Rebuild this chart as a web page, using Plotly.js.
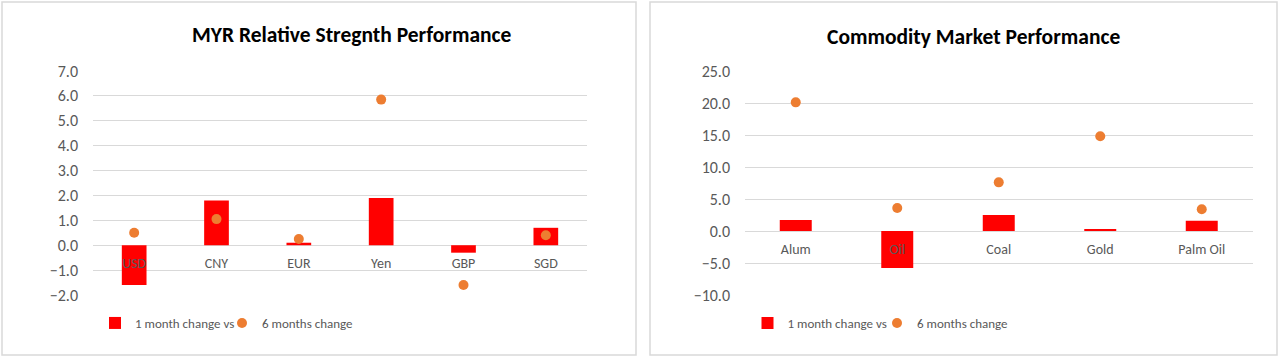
<!DOCTYPE html>
<html>
<head>
<meta charset="utf-8">
<script src="https://cdn.plot.ly/plotly-3.0.1.min.js"></script>
<style>
  html, body { margin: 0; padding: 0; background: #ffffff; }
  #chart { width: 1280px; height: 358px; }
</style>
</head>
<body>
<div id="chart"></div>
<script>
// ---- Data ----
const fxCategories = ['USD', 'CNY', 'EUR', 'Yen', 'GBP', 'SGD'];
const fxOneMonth   = [-1.6, 1.8, 0.1, 1.9, -0.3, 0.7];
const fxSixMonths  = [0.5, 1.05, 0.25, 5.85, -1.6, 0.4];

const cmCategories = ['Alum', 'Oil', 'Coal', 'Gold', 'Palm Oil'];
const cmOneMonth   = [1.7, -5.8, 2.5, 0.3, 1.6];
const cmSixMonths  = [20.1, 3.6, 7.6, 14.8, 3.4];

const seriesNames = ['1 month change vs', '6 months change'];
const chartTitles = ['MYR Relative Stregnth Performance', 'Commodity Market Performance'];

// ---- Styling ----
const W = 1280, H = 358;
const FONT = 'Carlito, Lato, "Open Sans", sans-serif';
const GRAY = '#595959';
const GRID = '#d9d9d9';
const RED = '#ff0000';
const ORANGE = '#ed7d31';

const yDom = [1 - 295 / H, 1 - 71 / H];
const y1Range = [-2, 7];
const y2Range = [-10, 25];
function zeroPos(r) { return yDom[0] + (0 - r[0]) / (r[1] - r[0]) * (yDom[1] - yDom[0]); }

const traces = [
  { type: 'bar', x: fxCategories, y: fxOneMonth, name: seriesNames[0], xaxis: 'x', yaxis: 'y',
    marker: { color: RED }, width: 0.3, legend: 'legend' },
  { type: 'scatter', mode: 'markers', x: fxCategories, y: fxSixMonths, name: seriesNames[1], xaxis: 'x', yaxis: 'y',
    marker: { color: ORANGE, size: 10 }, legend: 'legend3' },
  { type: 'bar', x: cmCategories, y: cmOneMonth, name: seriesNames[0], xaxis: 'x2', yaxis: 'y2',
    marker: { color: RED }, width: 0.315, legend: 'legend2' },
  { type: 'scatter', mode: 'markers', x: cmCategories, y: cmSixMonths, name: seriesNames[1], xaxis: 'x2', yaxis: 'y2',
    marker: { color: ORANGE, size: 10 }, legend: 'legend4' }
];

const xCommon = {
  type: 'category', showgrid: false, showline: false, zeroline: false, ticks: '',
  tickfont: { family: FONT, size: 14, color: GRAY }, anchor: 'free', ticklabelstandoff: 8, fixedrange: true
};
const yCommon = {
  showgrid: true, gridcolor: GRID, gridwidth: 1, zeroline: true, zerolinecolor: GRID, zerolinewidth: 1,
  showline: false, ticks: '', tickformat: '.1f', domain: yDom,
  tickfont: { family: FONT, size: 16, color: GRAY }, ticklabelstandoff: 14, fixedrange: true
};

const legendCommon = {
  orientation: 'h', yanchor: 'middle', y: 1 - 323 / H, xanchor: 'left',
  font: { family: FONT, size: 13, color: GRAY }, bgcolor: 'rgba(0,0,0,0)',
  itemwidth: 30, tracegroupgap: 0, itemclick: false, itemdoubleclick: false
};

const layout = {
  width: W, height: H,
  margin: { l: 0, r: 0, t: 0, b: 0 },
  paper_bgcolor: '#ffffff', plot_bgcolor: 'rgba(0,0,0,0)',
  showlegend: true,
  xaxis: Object.assign({}, xCommon, { domain: [93 / W, 587 / W], position: zeroPos(y1Range) }),
  yaxis: Object.assign({}, yCommon, { range: y1Range, dtick: 1, anchor: 'x' }),
  xaxis2: Object.assign({}, xCommon, { domain: [745 / W, 1252.5 / W], position: zeroPos(y2Range) }),
  yaxis2: Object.assign({}, yCommon, { range: y2Range, dtick: 5, anchor: 'x2' }),
  legend:  Object.assign({}, legendCommon, { x: 95 / W }),
  legend3: Object.assign({}, legendCommon, { x: 222 / W }),
  legend2: Object.assign({}, legendCommon, { x: 747.5 / W }),
  legend4: Object.assign({}, legendCommon, { x: 877 / W }),
  shapes: [
    { type: 'rect', xref: 'paper', yref: 'paper', x0: 2 / W, x1: 636 / W, y0: 1 - 355 / H, y1: 1 - 2 / H,
      line: { color: GRID, width: 1.5 }, fillcolor: 'rgba(0,0,0,0)', layer: 'below' },
    { type: 'rect', xref: 'paper', yref: 'paper', x0: 650 / W, x1: 1277 / W, y0: 1 - 355 / H, y1: 1 - 2 / H,
      line: { color: GRID, width: 1.5 }, fillcolor: 'rgba(0,0,0,0)', layer: 'below' }
  ],
  annotations: [
    { text: '<b>' + chartTitles[0] + '</b>', xref: 'paper', yref: 'paper', x: 352 / W, y: 1 - 35 / H,
      xanchor: 'center', yanchor: 'middle', showarrow: false, font: { family: FONT, size: 21.5, color: '#000000' } },
    { text: '<b>' + chartTitles[1] + '</b>', xref: 'paper', yref: 'paper', x: 973 / W, y: 1 - 37 / H,
      xanchor: 'center', yanchor: 'middle', showarrow: false, font: { family: FONT, size: 21.5, color: '#000000' } }
  ]
};

Plotly.newPlot('chart', traces, layout, { staticPlot: true, displayModeBar: false });
</script>
</body>
</html>
